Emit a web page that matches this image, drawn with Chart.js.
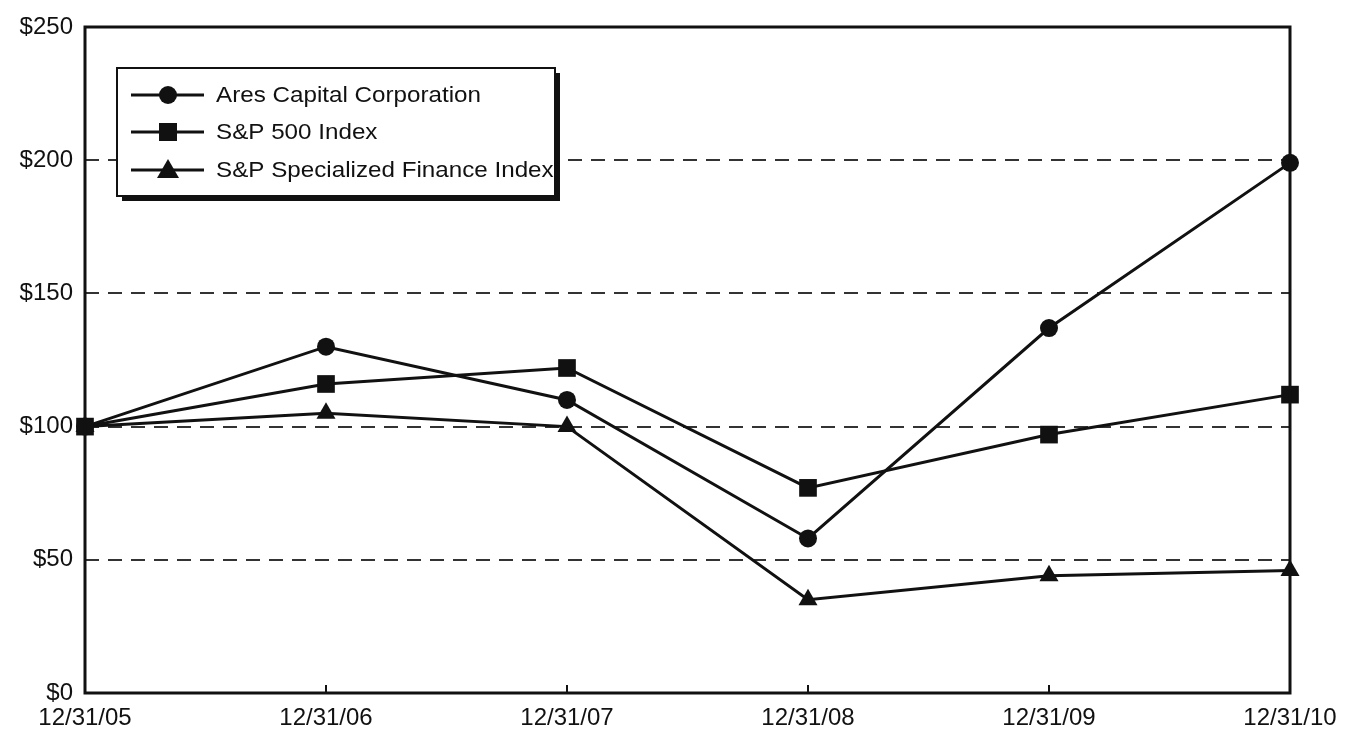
<!DOCTYPE html>
<html>
<head>
<meta charset="utf-8">
<script src="https://cdn.jsdelivr.net/npm/chart.js@4.4.0/dist/chart.umd.min.js"></script>
<style>
  html, body { margin: 0; padding: 0; background: #fff; }
  #wrap { width: 1346px; height: 732px; }
</style>
</head>
<body>
<div id="wrap"><canvas id="chart"></canvas></div>
<script>
// dates on the x axis
var dates = ["12/31/05", "12/31/06", "12/31/07", "12/31/08", "12/31/09", "12/31/10"];

// cumulative value of $100 invested
var ares = [100, 130, 110, 58, 137, 199];
var sp500 = [100, 116, 122, 77, 97, 112];
var specFin = [100, 105, 100, 35, 44, 46];

var yTicks = [0, 50, 100, 150, 200, 250];

var ink = "#111";
var fontFam = "'Liberation Sans', Arial, sans-serif";

// frame, inward x ticks and the boxed legend with its drop shadow
var framePlugin = {
  id: "frame",
  afterDraw: function (chart) {
    var ctx = chart.ctx, a = chart.chartArea;
    var xs = chart.scales.x;
    ctx.save();
    ctx.strokeStyle = ink;
    ctx.lineWidth = 3;
    ctx.strokeRect(a.left, a.top, a.right - a.left, a.bottom - a.top);

    ctx.lineWidth = 2;
    for (var i = 1; i < dates.length - 1; i++) {
      var px = xs.getPixelForValue(i);
      ctx.beginPath();
      ctx.moveTo(px, a.bottom);
      ctx.lineTo(px, a.bottom - 8);
      ctx.stroke();
    }

    // legend
    var bx = 117, by = 68, bw = 438, bh = 128;
    ctx.fillStyle = ink;
    ctx.fillRect(bx + 5, by + 5, bw, bh);
    ctx.fillStyle = "#fff";
    ctx.fillRect(bx, by, bw, bh);
    ctx.lineWidth = 2;
    ctx.strokeRect(bx, by, bw, bh);

    var rows = [95, 132, 170];
    ctx.font = "20px " + fontFam;
    ctx.textBaseline = "middle";
    chart.data.datasets.forEach(function (ds, k) {
      var y = rows[k];
      ctx.strokeStyle = ink;
      ctx.lineWidth = 3;
      ctx.beginPath();
      ctx.moveTo(131, y);
      ctx.lineTo(204, y);
      ctx.stroke();
      ctx.fillStyle = ink;
      if (ds.pointStyle === "circle") {
        ctx.beginPath();
        ctx.arc(168, y, 9, 0, Math.PI * 2);
        ctx.fill();
      } else if (ds.pointStyle === "rect") {
        ctx.fillRect(159, y - 9, 18, 18);
      } else {
        ctx.beginPath();
        ctx.moveTo(168, y - 11);
        ctx.lineTo(179, y + 8);
        ctx.lineTo(157, y + 8);
        ctx.closePath();
        ctx.fill();
      }
      ctx.save();
      ctx.font = "22px " + fontFam;
      ctx.translate(216, y + 1);
      ctx.scale(1.1, 1);
      ctx.fillText(ds.label, 0, 0);
      ctx.restore();
    });
    ctx.restore();
  }
};

function series(label, data, style, radius) {
  return {
    label: label,
    data: data,
    borderColor: ink,
    backgroundColor: ink,
    borderWidth: 3,
    pointStyle: style,
    pointRadius: radius,
    pointBorderWidth: 0,
    pointBackgroundColor: ink,
    tension: 0,
    clip: false
  };
}

new Chart(document.getElementById("chart"), {
  type: "line",
  data: {
    labels: dates,
    datasets: [
      series("Ares Capital Corporation", ares, "circle", 9),
      series("S&P 500 Index", sp500, "rect", 12.5),
      series("S&P Specialized Finance Index", specFin, "triangle", 11)
    ]
  },
  options: {
    responsive: true,
    maintainAspectRatio: false,
    animation: false,
    layout: { padding: { top: 27, right: 56, bottom: 0, left: 0 } },
    plugins: {
      legend: { display: false },
      tooltip: { enabled: false }
    },
    scales: {
      x: {
        type: "category",
        offset: false,
        grid: { display: false },
        border: { display: false },
        ticks: {
          color: ink,
          maxRotation: 0,
          autoSkip: false,
          padding: 3,
          font: { family: fontFam, size: 24 }
        },
        afterFit: function (s) { s.height = 39; }
      },
      y: {
        min: 0,
        max: 250,
        afterBuildTicks: function (s) {
          s.ticks = yTicks.map(function (v) { return { value: v }; });
        },
        grid: {
          color: function (c) {
            return (c.tick.value === 0 || c.tick.value === 250) ? "rgba(0,0,0,0)" : "#333";
          },
          lineWidth: 2,
          drawTicks: false
        },
        border: { display: false, dash: [14, 9] },
        ticks: {
          color: ink,
          padding: 12,
          font: { family: fontFam, size: 24 },
          callback: function (v) { return "$" + v; }
        },
        afterFit: function (s) { s.width = 85; }
      }
    }
  },
  plugins: [framePlugin]
});
</script>
</body>
</html>
